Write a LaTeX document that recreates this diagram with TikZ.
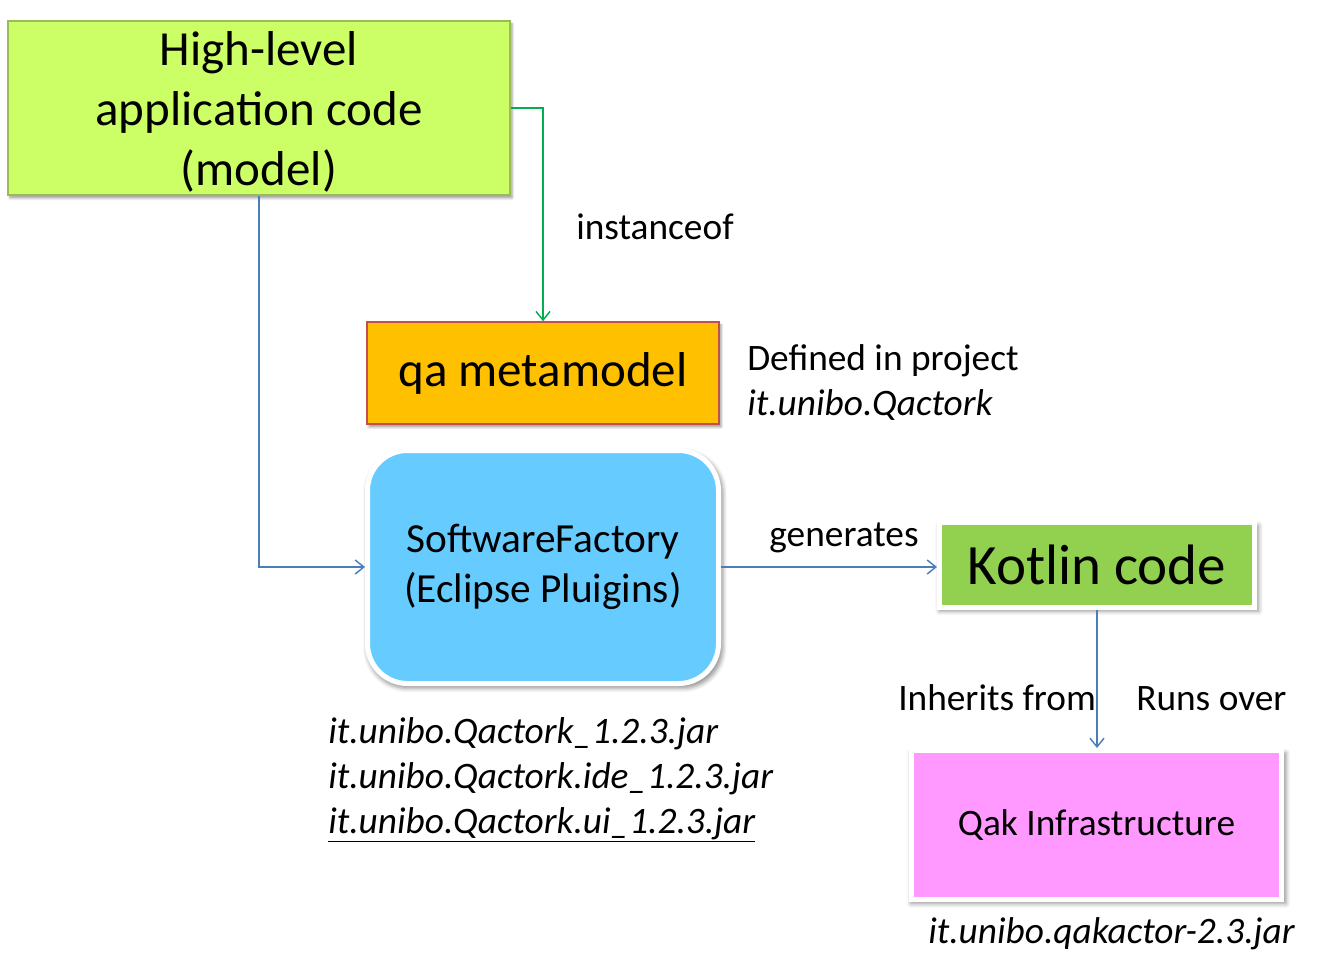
\documentclass[tikz,border=0pt]{standalone}
\usepackage{fontspec}
\setmainfont{Carlito}
\usetikzlibrary{arrows.meta,shadows,shadows.blur}

\definecolor{hlfill}{HTML}{CCFF66}
\definecolor{hlline}{HTML}{9BBB59}
\definecolor{qafill}{HTML}{FFC000}
\definecolor{qaline}{HTML}{C0504D}
\definecolor{sffill}{HTML}{66CCFF}
\definecolor{ktfill}{HTML}{92D050}
\definecolor{qakfill}{HTML}{FF99FF}
\definecolor{arrgreen}{HTML}{00B050}
\definecolor{arrblue}{HTML}{4A7EBB}

\begin{document}
\begin{tikzpicture}[x=0.75pt,y=-0.75pt,
    box/.style={rectangle, inner sep=0pt, align=center,
        blur shadow={shadow xshift=1.5pt, shadow yshift=-2.2pt, shadow blur radius=2pt, shadow opacity=40}},
    whitebox/.style={rectangle, inner sep=0pt, align=center, draw=white, line width=3.75pt,
        blur shadow={shadow xshift=1.5pt, shadow yshift=-2.4pt, shadow scale=1.015, shadow blur radius=3pt, shadow opacity=40}},
    lbl/.style={inner sep=0pt, font=\fontsize{28}{33.75}\selectfont},
    link/.style={line width=1.1pt, -{Straight Barb[length=6.5pt,width=10.5pt]}}
]
    \useasboundingbox (0,0) rectangle (1322,976);
    % boxes
    \node[box, fill=hlfill, draw=hlline, line width=0.8pt,
        minimum width=376.5pt, minimum height=130.5pt, text depth=0pt,
        font=\fontsize{36.75}{45}\selectfont] (hl) at (259,108)
        {High-level\\application code\\(model)};
    \node[box, fill=qafill, draw=qaline, line width=1.1pt,
        minimum width=264pt, minimum height=76.5pt,
        font=\fontsize{36.75}{45}\selectfont] (qa) at (543,373) {qa metamodel};
    \node[whitebox, fill=sffill, rounded corners=30pt,
        minimum width=263.25pt, minimum height=174.75pt,
        font=\fontsize{31}{37.5}\selectfont] (sf) at (543,567)
        {SoftwareFactory\\(Eclipse Pluigins)};
    \node[whitebox, fill=ktfill,
        minimum width=236.25pt, minimum height=63.75pt,
        font=\fontsize{42.75}{50}\selectfont] (kt) at (1097,565) {Kotlin code};
    \node[whitebox, fill=qakfill,
        minimum width=277.5pt, minimum height=111.75pt,
        font=\fontsize{28}{33.75}\selectfont] (qak) at (1096.5,825) {Qak Infrastructure};
    % connectors
    \draw[link, arrgreen] (hl.east) -| (qa.north);
    \draw[link, arrblue] (hl.south) |- (sf.west);
    \draw[link, arrblue] (sf.east) -- (sf.east -| kt.west);
    \draw[link, arrblue] (kt.south) -- (kt.south |- qak.north);
    % labels
    \node[lbl, anchor=base] (inst) at (655,239) {instanceof};
    \node[lbl, anchor=base west] (defA) at (747,370) {Defined in project};
    \node[lbl, anchor=base west] (defB) at (747,415) {\itshape it.unibo.Qactork};
    \node[lbl, anchor=base] (gen) at (844,546) {generates};
    \node[lbl, anchor=base west] (inh) at (898,710) {Inherits from};
    \node[lbl, anchor=base west] (runs) at (1136,710) {Runs over};
    \node[lbl, anchor=base west] (jarA) at (328,743) {\itshape it.unibo.Qactork\_1.2.3.jar};
    \node[lbl, anchor=base west] (jarB) at (328,788) {\itshape it.unibo.Qactork.ide\_1.2.3.jar};
    \node[lbl, anchor=base west] (jarC) at (328,833) {\itshape\underline{it.unibo.Qactork.ui\_1.2.3.jar}};
    \node[lbl, anchor=base west] (jarQ) at (928,943) {\itshape it.unibo.qakactor-2.3.jar};
\end{tikzpicture}
\end{document}
